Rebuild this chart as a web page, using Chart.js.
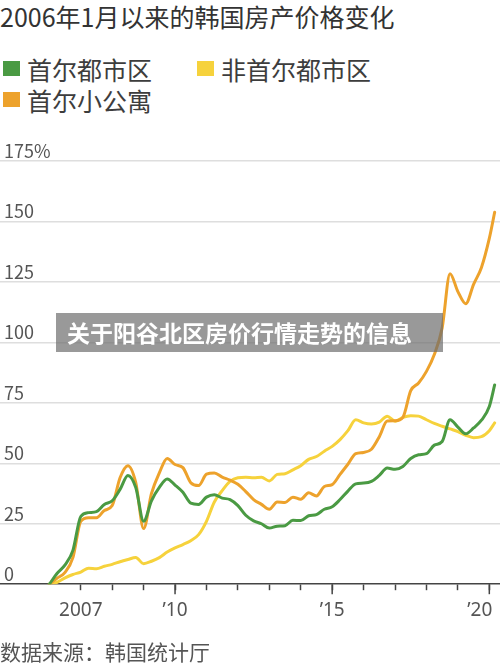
<!DOCTYPE html>
<html lang="zh">
<head>
<meta charset="UTF-8">
<meta name="viewport" content="width=device-width, initial-scale=1.0">
<title>2006年1月以来的韩国房产价格变化</title>
<script src="https://cdn.jsdelivr.net/npm/chart.js"></script>
<style>
  body { margin: 0; background: #fff; font-family: "Noto Sans CJK SC", sans-serif; }
  #page { position: relative; width: 500px; height: 666px; overflow: hidden; background: #fff; }
  #title { position: absolute; left: 0; top: 0; font-size: 25px; line-height: 32px; color: #333; white-space: nowrap; }
  #legend { position: absolute; left: 3px; top: 53px; width: 388px; display: flex; flex-wrap: wrap; }
  .item { display: flex; align-items: center; width: 194px; height: 31px; font-size: 25px; color: #3d3d3d; white-space: nowrap; }
  .box { width: 17px; height: 15px; margin-right: 7px; flex: none; }
  #wrap { position: absolute; left: 0; top: 120px; }
  #banner { position: absolute; left: 56px; top: 313px; width: 387px; height: 39px; box-sizing: border-box;
            padding-left: 11px; background: rgba(110,110,110,0.7); color: #fff; font-weight: bold;
            font-size: 23px; line-height: 39px; white-space: nowrap; }
  #source { position: absolute; left: 0; top: 638px; font-size: 21px; line-height: 26px; color: #555; white-space: nowrap; }
</style>
</head>
<body>
<div id="page">
  <div id="title">2006年1月以来的韩国房产价格变化</div>
  <div id="legend"></div>
  <div id="wrap"><canvas id="myChart" width="500" height="546"></canvas></div>
  <div id="banner">关于阳谷北区房价行情走势的信息</div>
  <div id="source">数据来源：韩国统计厅</div>
</div>
<script>
// quarterly points, in decimal years
const dates = [
  2006.00, 2006.25, 2006.50, 2006.75,
  2007.00, 2007.25, 2007.50, 2007.75,
  2008.00, 2008.25, 2008.50, 2008.75,
  2009.00, 2009.25, 2009.50, 2009.75,
  2010.00, 2010.25, 2010.50, 2010.75,
  2011.00, 2011.25, 2011.50, 2011.75,
  2012.00, 2012.25, 2012.50, 2012.75,
  2013.00, 2013.25, 2013.50, 2013.75,
  2014.00, 2014.25, 2014.50, 2014.75,
  2015.00, 2015.25, 2015.50, 2015.75,
  2016.00, 2016.25, 2016.50, 2016.75,
  2017.00, 2017.25, 2017.50, 2017.75,
  2018.00, 2018.25, 2018.50, 2018.75,
  2019.00, 2019.25, 2019.50, 2019.75,
  2020.00, 2020.17
];

const seoulMetro = [
  0, 4.5, 8, 14,
  28, 29.6, 30, 33,
  34.5, 39.2, 45, 40,
  26, 34.5, 40, 43.5,
  41, 38, 33.5, 33,
  36, 37, 35.6, 35,
  32.5, 28.5, 26.2, 25,
  23.2, 24, 24.2, 26.4,
  26.3, 28.3, 28.8, 31,
  32, 35, 38.5, 41.5,
  41.8, 42.5, 45, 48,
  47.5, 48.7, 52, 53.5,
  54, 57.5, 59, 68,
  65, 62.2, 64.6, 67.8,
  73.5, 82.4
];

const nonSeoulMetro = [
  0, 0.8, 2.6, 4,
  5, 6.6, 6.4, 7.4,
  8.2, 9.3, 10.2, 11,
  8.5, 9.5, 11, 13.3,
  15, 16.4, 18, 20.5,
  26, 34, 38.7, 42.5,
  44, 44.2, 44, 44.2,
  42.7, 45.4, 45.7, 47.3,
  49, 51.6, 52.8, 55,
  57, 59.8, 63.5, 68,
  66.7, 66.2, 67, 69.5,
  67.4, 69, 69.7, 69.5,
  68, 66.5, 65.3, 64.2,
  63.1, 61.6, 60.6, 61,
  63.5, 66.7
];

const seoulSmallApt = [
  0, 2.5, 4.9, 11,
  26, 27.5, 27.5, 30.5,
  32.5, 44, 49, 42,
  23, 37.5, 46, 52,
  49.5, 48.2, 42, 40.8,
  45.5, 46, 44.3, 43,
  41.3, 38.3, 35, 33,
  31, 34, 33.8, 36,
  35.1, 37.8, 36.5, 40.4,
  41.2, 45.4, 49.6, 54,
  54.5, 55.8, 61, 67.5,
  67.6, 69, 80, 83.2,
  88, 95, 106, 128.4,
  121, 116, 124, 131,
  143, 153.8
];

const seriesNames = ['首尔都市区', '非首尔都市区', '首尔小公寓'];
const seriesColors = ['#4a9a43', '#f6d23c', '#eda22c'];
const seriesOrder = [0, 2, 1]; // green on top, yellow at the bottom

const yTicks = [0, 25, 50, 75, 100, 125, 150, 175];
const xTickYears = [2007, 2008, 2009, 2010, 2011, 2012, 2013, 2014, 2015, 2016, 2017, 2018, 2019, 2020];
const xTickLabels = { 2007: '2007', 2010: '\u201910', 2015: '\u201915', 2020: '\u201920\u2002\u2002' };
const majorYears = [2010, 2015, 2020];

function toPoints(vals) {
  return dates.map((d, i) => ({ x: d, y: vals[i] }));
}

const allSeries = [seoulMetro, nonSeoulMetro, seoulSmallApt];
const datasets = allSeries.map((vals, i) => ({
  label: seriesNames[i],
  data: toPoints(vals),
  borderColor: seriesColors[i],
  backgroundColor: seriesColors[i],
  order: seriesOrder[i]
}));

// html legend built from the datasets
const legend = document.getElementById('legend');
datasets.forEach(ds => {
  const item = document.createElement('div');
  item.className = 'item';
  const box = document.createElement('span');
  box.className = 'box';
  box.style.background = ds.borderColor;
  item.appendChild(box);
  item.appendChild(document.createTextNode(ds.label));
  legend.appendChild(item);
});

// longer tick marks at the labelled years
const majorTicks = {
  id: 'majorTicks',
  afterDraw(chart) {
    const xs = chart.scales.x;
    const c = chart.ctx;
    const b = chart.chartArea.bottom;
    c.save();
    c.strokeStyle = '#444';
    c.lineWidth = 1.5;
    majorYears.forEach(yr => {
      const px = xs.getPixelForValue(yr);
      c.beginPath();
      c.moveTo(px, b);
      c.lineTo(px, b + 10);
      c.stroke();
    });
    c.restore();
  }
};

const cjkFont = "'Noto Sans CJK SC', sans-serif";

new Chart(document.getElementById('myChart'), {
  type: 'line',
  data: { datasets: datasets },
  options: {
    responsive: false,
    animation: false,
    devicePixelRatio: 1,
    layout: { padding: { top: 41, bottom: 35, left: 0, right: 0 } },
    plugins: { legend: { display: false }, tooltip: { enabled: false } },
    elements: {
      point: { radius: 0 },
      line: { borderWidth: 3, cubicInterpolationMode: 'monotone', borderJoinStyle: 'round', borderCapStyle: 'round' }
    },
    scales: {
      x: {
        type: 'linear',
        min: 2004.43,
        max: 2020.34,
        afterBuildTicks: s => { s.ticks = xTickYears.map(v => ({ value: v })); },
        afterFit: s => { s.paddingLeft = 0; s.paddingRight = 0; },
        ticks: {
          autoSkip: false, maxRotation: 0, padding: 9, color: '#555',
          font: { family: "'Noto Sans', sans-serif", size: 19 },
          callback: v => xTickLabels[v] || ''
        },
        grid: { drawOnChartArea: false, drawTicks: true, tickLength: 6, tickColor: '#444', tickWidth: 1.5 },
        border: { display: true, color: '#444', width: 1.5 }
      },
      y: {
        min: 0,
        max: 175,
        afterBuildTicks: s => { s.ticks = yTicks.map(v => ({ value: v })); },
        afterFit: s => { s.width = 0; },
        ticks: {
          mirror: true, padding: 4, labelOffset: -10, color: '#555',
          font: { family: cjkFont, size: 18 },
          callback: v => v === 175 ? '175%' : String(v)
        },
        grid: {
          color: c => c.tick && c.tick.value === 0 ? 'rgba(0,0,0,0)' : '#dedede',
          lineWidth: 1.5,
          drawTicks: false
        },
        border: { display: false }
      }
    }
  },
  plugins: [majorTicks]
});
</script>
</body>
</html>
